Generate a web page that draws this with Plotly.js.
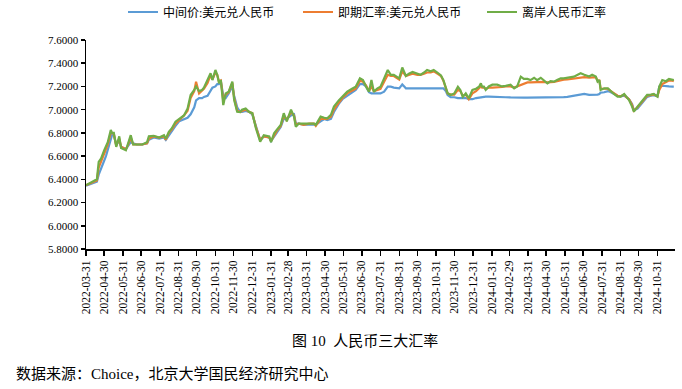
<!DOCTYPE html>
<html><head><meta charset="utf-8">
<script src="https://cdn.plot.ly/plotly-3.0.1.min.js"></script>
<style>html,body{margin:0;padding:0;background:#fff}#c{width:682px;height:389px}</style>
</head><body><div id="c"></div>
<script>
const dates = [
"2022-03-31","2022-04-07","2022-04-13","2022-04-18","2022-04-21","2022-04-25","2022-04-30","2022-05-03","2022-05-06","2022-05-11","2022-05-13","2022-05-16","2022-05-20","2022-05-25","2022-05-28","2022-06-05","2022-06-08","2022-06-13","2022-06-17","2022-06-23","2022-07-02","2022-07-10","2022-07-13","2022-07-21","2022-07-30","2022-08-07","2022-08-10","2022-08-15","2022-08-20","2022-08-26","2022-09-01","2022-09-09",
"2022-09-15","2022-09-20","2022-09-26","2022-09-29","2022-10-04","2022-10-09","2022-10-12","2022-10-18","2022-10-23","2022-10-26","2022-10-31","2022-11-03","2022-11-06","2022-11-09","2022-11-13","2022-11-17","2022-11-22","2022-11-28","2022-12-01","2022-12-06","2022-12-11","2022-12-14","2022-12-20","2022-12-26","2022-12-31","2023-01-06","2023-01-13","2023-01-19","2023-01-28","2023-01-31","2023-02-05","2023-02-10","2023-02-16","2023-02-21",
"2023-02-26","2023-03-05","2023-03-10","2023-03-13","2023-03-18","2023-03-26","2023-04-04","2023-04-12","2023-04-15","2023-04-23","2023-04-29","2023-05-04","2023-05-10","2023-05-15","2023-05-23","2023-05-29","2023-06-06","2023-06-14","2023-06-20","2023-06-27","2023-07-02","2023-07-07","2023-07-12","2023-07-16","2023-07-20","2023-07-26","2023-07-31","2023-08-06",
"2023-08-12","2023-08-17","2023-08-22","2023-08-31","2023-09-05","2023-09-11","2023-09-16","2023-09-22","2023-09-30","2023-10-05","2023-10-11","2023-10-16","2023-10-22","2023-10-27","2023-11-02","2023-11-08","2023-11-12","2023-11-16","2023-11-19","2023-11-24","2023-11-30","2023-12-06","2023-12-10","2023-12-14","2023-12-19","2023-12-24","2023-12-30","2024-01-05","2024-01-10","2024-01-13","2024-01-15","2024-01-18",
"2024-01-21","2024-01-26","2024-02-01","2024-02-09","2024-02-17","2024-02-23","2024-03-02","2024-03-08","2024-03-13","2024-03-19","2024-03-24","2024-03-30","2024-04-04","2024-04-10","2024-04-15","2024-04-21","2024-04-26","2024-05-02","2024-05-07","2024-05-13","2024-05-18","2024-05-24","2024-05-29","2024-06-04","2024-06-10","2024-06-15","2024-06-21","2024-06-26","2024-07-02",
"2024-07-10","2024-07-15","2024-07-21","2024-07-24","2024-07-27","2024-07-29","2024-08-04","2024-08-10","2024-08-15","2024-08-20","2024-08-26","2024-08-31","2024-09-06","2024-09-09","2024-09-14","2024-09-19","2024-09-22","2024-09-28","2024-10-03","2024-10-09","2024-10-14","2024-10-20","2024-10-25","2024-10-31","2024-11-03","2024-11-08","2024-11-14","2024-11-19","2024-11-25","2024-11-27"
];
const midRate = [
6.345,6.36,6.37,6.38,6.44,6.50,6.56,6.60,6.65,6.74,6.78,6.78,6.70,6.73,6.68,6.66,6.68,6.72,6.71,6.70,6.70,6.71,6.74,6.76,6.75,6.76,6.74,6.78,6.82,6.86,6.90,6.92,
6.93,6.96,7.02,7.08,7.10,7.10,7.11,7.12,7.16,7.19,7.20,7.22,7.22,7.24,7.12,7.10,7.14,7.20,7.12,7.02,6.98,6.98,6.99,6.98,6.96,6.86,6.74,6.77,6.76,6.73,6.77,6.81,6.85,6.92,
6.92,6.95,6.96,6.88,6.88,6.87,6.87,6.87,6.87,6.90,6.92,6.91,6.92,6.98,7.05,7.09,7.12,7.15,7.17,7.22,7.22,7.20,7.15,7.14,7.14,7.14,7.14,7.155,
7.198,7.198,7.19,7.184,7.218,7.184,7.184,7.184,7.184,7.184,7.184,7.184,7.184,7.184,7.184,7.184,7.184,7.16,7.127,7.107,7.107,7.10,7.10,7.10,7.10,7.09,7.09,7.10,7.105,7.11,7.11,7.112,
7.112,7.112,7.112,7.11,7.11,7.107,7.105,7.103,7.103,7.103,7.103,7.103,7.103,7.103,7.103,7.103,7.103,7.103,7.105,7.105,7.107,7.107,7.108,7.11,7.115,7.12,7.128,7.13,7.135,
7.128,7.128,7.128,7.13,7.135,7.147,7.15,7.16,7.15,7.135,7.12,7.115,7.12,7.11,7.09,7.05,6.995,7.01,7.04,7.08,7.11,7.12,7.125,7.115,7.198,7.206,7.206,7.20,7.198,7.198
];
const spotRate = [
6.35,6.365,6.375,6.39,6.50,6.56,6.62,6.66,6.70,6.80,6.80,6.79,6.69,6.75,6.68,6.66,6.69,6.76,6.70,6.70,6.70,6.71,6.75,6.77,6.76,6.77,6.74,6.80,6.83,6.88,6.91,6.95,
6.99,7.10,7.16,7.24,7.14,7.16,7.18,7.23,7.30,7.26,7.32,7.30,7.24,7.25,7.08,7.13,7.15,7.23,7.10,6.99,6.98,6.99,7.00,6.98,6.97,6.85,6.74,6.77,6.76,6.73,6.78,6.82,6.86,6.95,
6.91,6.98,6.95,6.87,6.88,6.87,6.88,6.88,6.86,6.92,6.92,6.92,6.94,7.00,7.06,7.10,7.14,7.16,7.18,7.25,7.24,7.21,7.16,7.20,7.16,7.17,7.18,7.24,
7.30,7.29,7.29,7.26,7.33,7.29,7.30,7.31,7.30,7.30,7.31,7.32,7.32,7.33,7.31,7.29,7.25,7.19,7.14,7.13,7.13,7.17,7.16,7.12,7.13,7.09,7.14,7.16,7.18,7.20,7.19,7.19,
7.18,7.19,7.19,7.19,7.195,7.20,7.20,7.19,7.20,7.218,7.225,7.235,7.235,7.238,7.24,7.24,7.24,7.235,7.235,7.24,7.245,7.255,7.258,7.26,7.263,7.268,7.272,7.275,7.28,
7.275,7.28,7.28,7.25,7.25,7.18,7.18,7.18,7.16,7.14,7.12,7.115,7.13,7.11,7.09,7.04,6.99,7.02,7.05,7.09,7.12,7.125,7.13,7.115,7.17,7.22,7.24,7.25,7.25,7.245
];
const offshoreRate = [
6.35,6.37,6.38,6.40,6.55,6.58,6.65,6.68,6.72,6.825,6.80,6.80,6.68,6.77,6.67,6.65,6.70,6.78,6.70,6.70,6.70,6.72,6.77,6.775,6.76,6.78,6.75,6.81,6.84,6.896,6.92,6.95,
7.01,7.126,7.17,7.20,7.16,7.17,7.19,7.255,7.313,7.255,7.342,7.30,7.227,7.255,7.04,7.14,7.155,7.241,7.083,6.982,6.98,7.00,7.01,6.98,6.97,6.84,6.724,6.78,6.77,6.72,6.796,6.83,6.868,6.97,
6.90,7.00,6.94,6.853,6.88,6.88,6.88,6.88,6.869,6.94,6.93,6.925,6.955,7.026,7.08,7.11,7.155,7.18,7.198,7.27,7.255,7.20,7.155,7.255,7.155,7.184,7.198,7.27,
7.342,7.30,7.30,7.27,7.363,7.29,7.31,7.325,7.31,7.30,7.32,7.342,7.33,7.342,7.32,7.295,7.255,7.184,7.141,7.127,7.14,7.198,7.17,7.11,7.14,7.098,7.17,7.18,7.198,7.227,7.198,7.198,
7.17,7.20,7.215,7.215,7.20,7.205,7.215,7.184,7.20,7.284,7.265,7.265,7.255,7.275,7.255,7.275,7.255,7.227,7.245,7.241,7.255,7.27,7.27,7.275,7.275,7.284,7.30,7.313,7.30,
7.285,7.30,7.285,7.241,7.255,7.17,7.184,7.184,7.155,7.135,7.112,7.112,7.135,7.112,7.083,7.026,6.983,7.026,7.055,7.098,7.127,7.13,7.135,7.112,7.198,7.255,7.245,7.265,7.255,7.255
];
const seriesNames = ["中间价:美元兑人民币","即期汇率:美元兑人民币","离岸人民币汇率"];
const tickDates = ["2022-03-31","2022-04-30","2022-05-31","2022-06-30","2022-07-31","2022-08-31","2022-09-30","2022-10-31","2022-11-30","2022-12-31","2023-01-31","2023-02-28","2023-03-31","2023-04-30","2023-05-31","2023-06-30","2023-07-31","2023-08-31","2023-09-30","2023-10-31","2023-11-30","2023-12-31","2024-01-31","2024-02-29","2024-03-31","2024-04-30","2024-05-31","2024-06-30","2024-07-31","2024-08-31","2024-09-30","2024-10-31"];
const tickLabels = tickDates.slice();
const yTicks = [5.8,6.0,6.2,6.4,6.6,6.8,7.0,7.2,7.4,7.6];
const yTickLabels = ["5.8000","6.0000","6.2000","6.4000","6.6000","6.8000","7.0000","7.2000","7.4000","7.6000"];
const chartTitle = "图 10  人民币三大汇率";
const sourceText = "数据来源：Choice，北京大学国民经济研究中心";

const FONT = "'Liberation Serif', 'Times New Roman', 'Noto Sans CJK SC', serif";
const colors = ["#5B9BD5","#ED7D31","#70AD47"];
const legendIds = ["legend","legend2","legend3"];
const legendLeft = [123, 298, 482];
const values = [midRate, spotRate, offshoreRate];
const traces = values.map((v,i)=>({
  x: dates, y: v, type: "scatter", mode: "lines", name: seriesNames[i], legend: legendIds[i],
  line: {color: colors[i], width: 2.2}
}));
const legendStyle = (left) => ({orientation: "h", xref: "container", yref: "container", x: left/682, xanchor: "left",
    y: 1-12/389, yanchor: "middle", bgcolor: "rgba(0,0,0,0)",
    font: {family: FONT, size: 12, color: "#000"}, itemwidth: 30});
const layout = {
  width: 682, height: 389,
  margin: {l: 86, r: 7, t: 40, b: 140},
  paper_bgcolor: "#fff", plot_bgcolor: "#fff",
  font: {family: FONT, size: 11, color: "#000"},
  showlegend: true,
  legend: legendStyle(legendLeft[0]),
  legend2: legendStyle(legendLeft[1]),
  legend3: legendStyle(legendLeft[2]),
  xaxis: {type: "date", range: ["2022-03-31","2024-11-29"], tickvals: tickDates, ticktext: tickLabels,
    tickangle: -90, showgrid: false, zeroline: false, showline: true, linecolor: "#000", linewidth: 2,
    ticks: "outside", ticklen: 5, tickwidth: 1.5, tickcolor: "#000",
    tickfont: {family: FONT, size: 11.5, color: "#000"}},
  yaxis: {range: [5.8, 7.6], tickvals: yTicks, ticktext: yTickLabels, showgrid: false, zeroline: false,
    showline: true, linecolor: "#000", linewidth: 1.5, ticks: "outside", ticklen: 4, tickwidth: 1.5, tickcolor: "#000",
    tickfont: {family: FONT, size: 11, color: "#000"}},
  annotations: [
    {text: chartTitle, xref: "paper", yref: "paper", x: (365-86)/589, y: 1-(341-40)/209, xanchor: "center", yanchor: "middle",
     showarrow: false, font: {family: FONT, size: 15, color: "#000"}},
    {text: sourceText, xref: "paper", yref: "paper", x: (14-86)/589, y: 1-(374-40)/209, xanchor: "left", yanchor: "middle",
     showarrow: false, font: {family: FONT, size: 15, color: "#000"}}
  ]
};
Plotly.newPlot("c", traces, layout, {displayModeBar: false, staticPlot: true});
</script></body></html>
